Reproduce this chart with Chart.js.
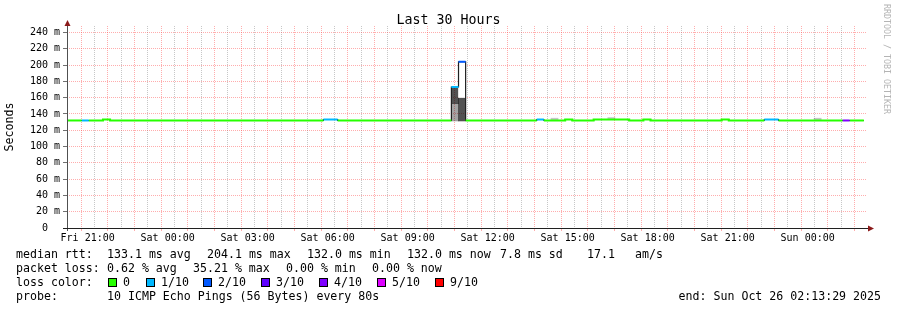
<!DOCTYPE html>
<html>
<head>
<meta charset="utf-8">
<script src="https://cdn.jsdelivr.net/npm/chart.js@4.4.1/dist/chart.umd.min.js"></script>
<style>
  html, body { margin: 0; padding: 0; background: #fff; }
  #wrap { position: relative; width: 897px; height: 310px; overflow: hidden;
          font-family: 'DejaVu Sans Mono', monospace; color: #000; }
  #chart { position: absolute; left: 0; top: 0; }
  #title { position: absolute; left: 0; top: 12px; width: 897px; text-align: center;
           font-size: 13.3px; line-height: 16px; white-space: pre; }
  #rrd { position: absolute; left: 882px; top: 4px; font-size: 8.3px; line-height: 10px;
         color: #b4b4b4; writing-mode: vertical-rl; white-space: pre; }
  .t { position: absolute; white-space: pre; font-size: 11.6px; line-height: 14px; }
  .sq { position: absolute; top: 278px; width: 7px; height: 7px; border: 1px solid #000; }
</style>
</head>
<body>
<div id="wrap">
  <canvas id="chart" width="897" height="310"></canvas>
  <div id="title">Last 30 Hours</div>
  <div id="rrd">RRDTOOL / TOBI OETIKER</div>

  <div class="t" style="left:16px;top:247px">median rtt:</div>
  <div class="t" style="left:107px;top:247px">133.1 ms avg</div>
  <div class="t" style="left:207px;top:247px">204.1 ms max</div>
  <div class="t" style="left:307px;top:247px">132.0 ms min</div>
  <div class="t" style="left:407px;top:247px">132.0 ms now</div>
  <div class="t" style="left:500px;top:247px">7.8 ms sd</div>
  <div class="t" style="left:587px;top:247px">17.1</div>
  <div class="t" style="left:635px;top:247px">am/s</div>

  <div class="t" style="left:16px;top:261px">packet loss:</div>
  <div class="t" style="left:107px;top:261px">0.62 % avg</div>
  <div class="t" style="left:193px;top:261px">35.21 % max</div>
  <div class="t" style="left:286px;top:261px">0.00 % min</div>
  <div class="t" style="left:372px;top:261px">0.00 % now</div>

  <div class="t" style="left:16px;top:275px">loss color:</div>
  <div id="lossLegend"></div>

  <div class="t" style="left:16px;top:289px">probe:</div>
  <div class="t" style="left:107px;top:289px">10 ICMP Echo Pings (56 Bytes) every 80s</div>
  <div class="t" style="right:16px;top:289px">end: Sun Oct 26 02:13:29 2025</div>
</div>

<script>
// time axis: hours since Fri 00:00, window Fri 20:13:29 .. Sun 02:13:29
var startHour = 20.2247
var endHour = 50.2247
var firstBinHour = 20.24
var binHours = 16 / 60

var xTickHours = [21, 24, 27, 30, 33, 36, 39, 42, 45, 48]
var xTickLabels = ['Fri 21:00', 'Sat 00:00', 'Sat 03:00', 'Sat 06:00', 'Sat 09:00',
                   'Sat 12:00', 'Sat 15:00', 'Sat 18:00', 'Sat 21:00', 'Sun 00:00']

var yGridValues = [0, 10, 20, 30, 40, 50, 60, 70, 80, 90, 100, 110, 120, 130, 140,
                   150, 160, 170, 180, 190, 200, 210, 220, 230, 240]
var yLabelValues = [0, 20, 40, 60, 80, 100, 120, 140, 160, 180, 200, 220, 240]
var yTickLabels = ['0  ', '20 m', '40 m', '60 m', '80 m', '100 m', '120 m', '140 m',
                   '160 m', '180 m', '200 m', '220 m', '240 m']

// median rtt (ms) per 16 minute bin, 16 bins per row
var medianMs = [
  132, 132, 132, 132, 132, 133.2, 132, 132, 132, 132, 132, 132, 132, 132, 132, 132,
  132, 132, 132, 132, 132, 132, 132, 132, 132, 132, 132, 132, 132, 132, 132, 132,
  132, 132, 132, 132, 133.2, 133.2, 132, 132, 132, 132, 132, 132, 132, 132, 132, 132,
  132, 132, 132, 132, 132, 132, 173.1, 204.1, 132, 132, 132, 132, 132, 132, 132, 132,
  132, 132, 133.2, 132, 132, 132, 133.2, 132, 132, 132, 133.2, 133.2, 133.2, 133.2, 133.2, 132,
  132, 133.2, 132, 132, 132, 132, 132, 132, 132, 132, 132, 132, 133.2, 132, 132, 132,
  132, 132, 133.2, 133.2, 132, 132, 132, 132, 132, 132, 132, 132, 132, 132, 132, 132
]
// lost pings out of 10 per bin
var lostPings = [
  0, 0, 1, 0, 0, 0, 0, 0, 0, 0, 0, 0, 0, 0, 0, 0,
  0, 0, 0, 0, 0, 0, 0, 0, 0, 0, 0, 0, 0, 0, 0, 0,
  0, 0, 0, 0, 1, 1, 0, 0, 0, 0, 0, 0, 0, 0, 0, 0,
  0, 0, 0, 0, 0, 0, 1, 2, 0, 0, 0, 0, 0, 0, 0, 0,
  0, 0, 1, 0, 0, 0, 0, 0, 0, 0, 0, 0, 0, 0, 0, 0,
  0, 0, 0, 0, 0, 0, 0, 0, 0, 0, 0, 0, 0, 0, 0, 0,
  0, 0, 1, 1, 0, 0, 0, 0, 0, 0, 0, 0, 0, 4, 0, 0
]

// smoke (ping spread) per bin
var smokeInnerBins = [54, 55]
var smokeInnerLow = [152.8, 131.4]
var smokeInnerHigh = [172.2, 160.2]
var smokeOuterBins = [54]
var smokeOuterLow = [131.4]
var smokeOuterHigh = [152.8]
var smokeFaintBins = [68, 76, 105]
var smokeFaintLow = [132.4, 133.4, 132.4]
var smokeFaintHigh = [134.8, 135.6, 134.8]
var smokeGapBins = [55]
var smokeGapLow = [160.2]
var smokeGapHigh = [202.8]

var lossCounts = [0, 1, 2, 3, 4, 5, 9]
var lossLabels = ['0', '1/10', '2/10', '3/10', '4/10', '5/10', '9/10']
var lossColors = ['#26ff00', '#00b8ff', '#0059ff', '#5e00ff', '#7e00ff', '#dd00ff', '#ff0000']

var FONT = 'DejaVu Sans Mono'

function lossColor(n){
  var i = lossCounts.indexOf(n)
  return lossColors[i < 0 ? lossColors.length - 1 : i]
}

function binStart(k){
  return firstBinHour + k * binHours
}

// loss colour legend row
var legendX = [108, 146, 203, 261, 319, 377, 435]
var legendHtml = ''
lossLabels.forEach(function(label, i){
  legendHtml += '<div class="sq" style="left:' + legendX[i] + 'px;background:' + lossColors[i] + '"></div>'
  legendHtml += '<div class="t" style="left:' + (legendX[i] + 15) + 'px;top:275px">' + label + '</div>'
})
document.getElementById('lossLegend').innerHTML = legendHtml

function smokeSet(bins, low, high, color, order){
  return {
    type: 'bar',
    data: bins.map(function(k, i){ return {x: binStart(k) + binHours / 2, y: [low[i], high[i]]} }),
    backgroundColor: color,
    borderWidth: 0,
    barPercentage: 1,
    categoryPercentage: 1,
    grouped: false,
    order: order
  }
}

var datasets = []

// median line coloured by packet loss: one dataset per run of equal loss
var run = null
medianMs.forEach(function(v, k){
  var n = lostPings[k]
  if(!run || run.n !== n){
    run = { n: n, pts: [] }
    datasets.push({
      type: 'line', data: run.pts, borderColor: lossColor(n), borderWidth: 2,
      pointRadius: 0, order: 0
    })
  }
  run.pts.push({x: binStart(k), y: v}, {x: binStart(k + 1), y: v})
})

// dark step outline of the median
var outline = medianMs.map(function(v, k){ return {x: binStart(k), y: v} })
outline.push({x: binStart(medianMs.length), y: medianMs[medianMs.length - 1]})
datasets.push({
  type: 'line', data: outline, borderColor: '#202020', borderWidth: 1.2,
  pointRadius: 0, stepped: 'before', order: 1
})

datasets.push(smokeSet(smokeGapBins, smokeGapLow, smokeGapHigh, '#ffffff', 2))
datasets.push(smokeSet(smokeInnerBins, smokeInnerLow, smokeInnerHigh, 'rgba(0,0,0,0.68)', 3))
datasets.push(smokeSet(smokeOuterBins, smokeOuterLow, smokeOuterHigh, 'rgba(0,0,0,0.36)', 3))
datasets.push(smokeSet(smokeFaintBins, smokeFaintLow, smokeFaintHigh, 'rgba(0,0,0,0.22)', 3))

var MAJOR = 'rgba(255,60,60,0.42)'
var MINOR = 'rgba(0,0,0,0.22)'

// axis lines + arrow heads, rrdtool style
var rrdAxes = {
  id: 'rrdAxes',
  afterDraw: function(chart){
    var ctx = chart.ctx
    var a = chart.chartArea
    ctx.save()
    ctx.lineWidth = 1
    ctx.strokeStyle = '#505050'
    ctx.beginPath()
    ctx.moveTo(a.left + 0.5, a.bottom + 3)
    ctx.lineTo(a.left + 0.5, a.top - 4)
    ctx.stroke()
    ctx.strokeStyle = '#202020'
    ctx.beginPath()
    ctx.moveTo(a.left - 4, a.bottom + 0.5)
    ctx.lineTo(a.right + 2, a.bottom + 0.5)
    ctx.stroke()
    ctx.fillStyle = '#8b1a1a'
    ctx.beginPath()
    ctx.moveTo(a.left + 0.5 - 3, a.top)
    ctx.lineTo(a.left + 0.5 + 3, a.top)
    ctx.lineTo(a.left + 0.5, a.top - 6)
    ctx.closePath()
    ctx.fill()
    ctx.beginPath()
    ctx.moveTo(a.right + 1, a.bottom + 0.5 - 3)
    ctx.lineTo(a.right + 1, a.bottom + 0.5 + 3)
    ctx.lineTo(a.right + 7, a.bottom + 0.5)
    ctx.closePath()
    ctx.fill()
    ctx.restore()
  }
}

var chart = new Chart(document.getElementById('chart'), {
  type: 'line',
  data: { datasets: datasets },
  options: {
    responsive: false,
    animation: false,
    events: [],
    layout: { padding: { left: 0, right: 30, top: 26, bottom: 62 } },
    plugins: { legend: { display: false }, tooltip: { enabled: false }, title: { display: false } },
    scales: {
      x: {
        type: 'linear', min: startHour, max: endHour, offset: false,
        afterBuildTicks: function(scale){
          var t = []
          for(var h = Math.ceil(startHour * 2) / 2; h < endHour; h += 0.5) t.push({value: h})
          scale.ticks = t
        },
        afterFit: function(scale){ scale.height = 20 },
        border: { display: false, dash: [1, 1] },
        grid: {
          color: function(c){ return c.tick && c.tick.value % 1 === 0 ? MAJOR : MINOR },
          tickColor: function(c){ return c.tick && c.tick.value % 1 === 0 ? MAJOR : 'rgba(0,0,0,0)' },
          tickLength: 3, lineWidth: 1
        },
        ticks: {
          autoSkip: false, maxRotation: 0, minRotation: 0, padding: 1,
          color: '#000', font: { family: FONT, size: 10 },
          callback: function(v){
            var i = xTickHours.indexOf(v)
            return i < 0 ? '' : xTickLabels[i]
          }
        }
      },
      y: {
        type: 'linear', min: 0, max: 248,
        afterBuildTicks: function(scale){
          scale.ticks = yGridValues.map(function(v){ return {value: v} })
        },
        afterFit: function(scale){ scale.width = 67 },
        border: { display: false, dash: [1, 1] },
        grid: {
          color: function(c){ return c.tick && yLabelValues.indexOf(c.tick.value) >= 0 ? MAJOR : MINOR },
          tickColor: '#707070',
          tickLength: 4, lineWidth: 1
        },
        ticks: {
          padding: 3, color: '#000', font: { family: FONT, size: 10 },
          callback: function(v){
            var i = yLabelValues.indexOf(v)
            return i < 0 ? '' : yTickLabels[i]
          }
        },
        title: {
          display: true, text: 'Seconds', color: '#000',
          font: { family: FONT, size: 11.6 }, padding: { top: 3, bottom: 0 }
        }
      }
    }
  },
  plugins: [rrdAxes]
})
</script>
</body>
</html>
